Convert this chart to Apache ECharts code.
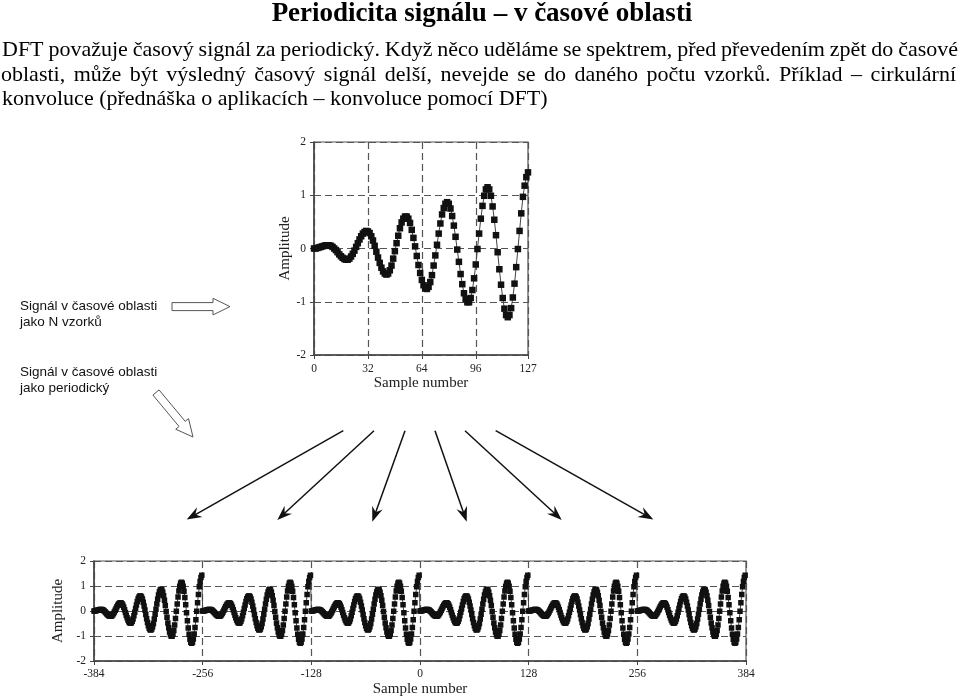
<!DOCTYPE html>
<html><head><meta charset="utf-8">
<script src="https://cdn.jsdelivr.net/npm/echarts@6/dist/echarts.min.js"></script>
<style>html,body{margin:0;padding:0;background:#fff}#c{width:960px;height:698px}</style>
</head><body><div id="c"></div>
<script>
// ---- data ----
const amplitude = [
  0, 0, 0.01, 0.02, 0.03, 0.04, 0.05, 0.06, 0.06,
  0.06, 0.05, 0.03, 0.00, -0.03, -0.07, -0.11, -0.145, -0.175, -0.197, -0.21,
  -0.21, -0.19, -0.15, -0.10, -0.04, 0.03, 0.10, 0.17, 0.23, 0.28, 0.31, 0.33,
  0.32, 0.29, 0.23, 0.15, 0.05, -0.06, -0.17, -0.27, -0.36, -0.43, -0.47, -0.49,
  -0.47, -0.41, -0.32, -0.19, -0.05, 0.10, 0.24, 0.38, 0.49, 0.56, 0.60,
  0.60, 0.56, 0.48, 0.35, 0.20, 0.04, -0.14, -0.31, -0.46, -0.59, -0.69, -0.75,
  -0.76, -0.72, -0.63, -0.50, -0.32, -0.13, 0.07, 0.28, 0.47, 0.64, 0.76, 0.84, 0.87,
  0.84, 0.75, 0.61, 0.43, 0.22, -0.02, -0.25, -0.48, -0.67, -0.84, -0.95, -1.01,
  -1.01, -0.93, -0.78, -0.56, -0.30, -0.01, 0.28, 0.56, 0.80, 0.99, 1.11, 1.15,
  1.11, 0.99, 0.79, 0.54, 0.25, -0.07, -0.39, -0.68, -0.93, -1.13, -1.25, -1.29,
  -1.25, -1.12, -0.92, -0.66, -0.35, -0.01, 0.33, 0.66, 0.97, 1.18, 1.34, 1.43
];
const topXTicks = [0, 32, 64, 96, 127];
const yTicks = [-2, -1, 0, 1, 2];
const bottomXTicks = [-384, -256, -128, 0, 128, 256, 384];
const periodStart = -384;
const periodCount = 6;

const titleText = 'Periodicita signálu – v časové oblasti';
const bodyLines = [
  'DFT považuje časový signál za periodický. Když něco uděláme se spektrem, před převedením zpět do časové',
  'oblasti, může být výsledný časový signál delší, nevejde se do daného počtu vzorků. Příklad – cirkulární',
  'konvoluce (přednáška o aplikacích – konvoluce pomocí DFT)'
];
const sideLabels = [
  ['Signál v časové oblasti', 'jako N vzorků'],
  ['Signál v časové oblasti', 'jako periodický']
];
const axisNameX = 'Sample number';
const axisNameY = 'Amplitude';

// ---- series built from the arrays ----
const topData = amplitude.map((v, i) => [i, v]);
const bottomData = [];
for (let p = 0; p < periodCount; p++) {
  amplitude.forEach((v, i) => bottomData.push([periodStart + p * amplitude.length + i, v]));
}

// ---- decorations ----
const SERIF = '"Liberation Serif", "Times New Roman", serif';
const ctx = document.createElement('canvas').getContext('2d');
function textLine(line, y, x0, x1, font, justify) {
  ctx.font = font;
  const words = line.split(' ');
  const widths = words.map(w => ctx.measureText(w).width);
  const total = widths.reduce((a, b) => a + b, 0);
  const gap = justify ? (x1 - x0 - total) / (words.length - 1) : ctx.measureText(' ').width;
  let x = x0;
  const els = [];
  words.forEach((w, i) => {
    els.push({ type: 'text', x: x, y: y, style: { text: w, font: font, fill: '#000', textVerticalAlign: 'middle', verticalAlign: 'middle' } });
    x += widths[i] + gap;
  });
  return els;
}
function arrowHead(x0, y0, x1, y1, len, half, notch) {
  const dx = x1 - x0, dy = y1 - y0, L = Math.hypot(dx, dy), ux = dx / L, uy = dy / L, px = -uy, py = ux;
  const bx = x1 - ux * len, by = y1 - uy * len;
  return [[x1, y1], [bx + px * half, by + py * half], [x1 - ux * (len - notch), y1 - uy * (len - notch)], [bx - px * half, by - py * half]];
}
function hollowArrow(x0, y0, x1, y1) {
  const dx = x1 - x0, dy = y1 - y0, L = Math.hypot(dx, dy), ux = dx / L, uy = dy / L, px = -uy, py = ux;
  const sw = 4, hw = 8.3, hl = 17;
  const loc = [[0, -sw], [L - hl, -sw], [L - hl, -hw], [L, 0], [L - hl, hw], [L - hl, sw], [0, sw]];
  return loc.map(([a, b]) => [x0 + ux * a + px * b, y0 + uy * a + py * b]);
}

const graphics = [];
graphics.push({ type: 'text', x: 482, y: 14, style: { text: titleText, font: 'bold 27px ' + SERIF, fill: '#000', textAlign: 'center', align: 'center', textVerticalAlign: 'middle', verticalAlign: 'middle' } });
const bodyFont = '22px ' + SERIF;
graphics.push(...textLine(bodyLines[0], 50, 2, 958, bodyFont, true));
graphics.push(...textLine(bodyLines[1], 75, 1, 956, bodyFont, true));
graphics.push(...textLine(bodyLines[2], 99, 2, 958, bodyFont, false));
const sideFont = '13.5px "Liberation Sans", Arial, sans-serif';
const sideY = [[306, 322], [372, 388]];
sideLabels.forEach((pair, k) => pair.forEach((t, j) => {
  graphics.push({ type: 'text', x: 20, y: sideY[k][j], style: { text: t, font: sideFont, fill: '#111', textVerticalAlign: 'middle', verticalAlign: 'middle' } });
}));
graphics.push({ type: 'polygon', shape: { points: hollowArrow(172, 306.6, 230, 306.6) }, style: { fill: '#fff', stroke: '#555', lineWidth: 1 } });
graphics.push({ type: 'polygon', shape: { points: hollowArrow(156, 392.5, 193, 437) }, style: { fill: '#fff', stroke: '#555', lineWidth: 1 } });
const fan = [
  [343.3, 430.7, 186.7, 519.5],
  [374, 430.7, 277.3, 520],
  [405, 430.7, 372.3, 521.7],
  [435, 430.7, 466.7, 521.7],
  [465, 430.7, 561.7, 520],
  [495.7, 430.7, 653.3, 519.5]
];
fan.forEach(([x0, y0, x1, y1]) => {
  const dx = x1 - x0, dy = y1 - y0, L = Math.hypot(dx, dy);
  graphics.push({ type: 'line', shape: { x1: x0, y1: y0, x2: x1 - dx / L * 8, y2: y1 - dy / L * 8 }, style: { stroke: '#111', lineWidth: 1.5 } });
  graphics.push({ type: 'polygon', shape: { points: arrowHead(x0, y0, x1, y1, 15, 5.5, 5) }, style: { fill: '#111' } });
});

// ---- axes ----
const dash = { color: '#555', width: 1.2, type: [7, 4] };
const axisLine = { show: true, onZero: false, lineStyle: { color: '#444', width: 1.5 } };
const lblStyle = { color: '#222', fontFamily: SERIF, fontSize: 11.5 };
const nameStyle = { color: '#222', fontFamily: SERIF, fontSize: 15 };

const option = {
  animation: false,
  backgroundColor: '#fff',
  graphic: graphics,
  grid: [
    { left: 314, top: 142, width: 214, height: 213, show: true, borderColor: '#555', borderWidth: 1.2, backgroundColor: 'transparent' },
    { left: 94, top: 561, width: 652, height: 100, show: true, borderColor: '#555', borderWidth: 1.2, backgroundColor: 'transparent' }
  ],
  xAxis: [
    { gridIndex: 0, type: 'value', min: 0, max: 127,
      axisLine: axisLine, axisTick: { show: true, inside: false, length: 4, customValues: topXTicks, lineStyle: { color: '#444' } },
      axisLabel: { customValues: topXTicks, margin: 8, ...lblStyle },
      splitLine: { show: true, lineStyle: dash },
      name: axisNameX, nameLocation: 'middle', nameGap: 20, nameTextStyle: nameStyle },
    { gridIndex: 1, type: 'value', min: bottomXTicks[0], max: bottomXTicks[bottomXTicks.length - 1], interval: 128,
      axisLine: axisLine, axisTick: { show: true, length: 4, lineStyle: { color: '#444' } },
      axisLabel: { margin: 7, showMinLabel: true, showMaxLabel: true, ...lblStyle },
      splitLine: { show: true, lineStyle: dash },
      name: axisNameX, nameLocation: 'middle', nameGap: 21, nameTextStyle: nameStyle }
  ],
  yAxis: [
    { gridIndex: 0, type: 'value', min: yTicks[0], max: yTicks[yTicks.length - 1], interval: 1,
      axisLine: axisLine, axisTick: { show: true, length: 4, lineStyle: { color: '#444' } },
      axisLabel: { margin: 8, ...lblStyle },
      splitLine: { show: true, lineStyle: dash },
      name: axisNameY, nameLocation: 'middle', nameGap: 16, nameTextStyle: nameStyle },
    { gridIndex: 1, type: 'value', min: yTicks[0], max: yTicks[yTicks.length - 1], interval: 1,
      axisLine: axisLine, axisTick: { show: true, length: 4, lineStyle: { color: '#444' } },
      axisLabel: { margin: 8, ...lblStyle },
      splitLine: { show: true, lineStyle: dash },
      name: axisNameY, nameLocation: 'middle', nameGap: 16, nameTextStyle: nameStyle }
  ],
  series: [
    { type: 'line', xAxisIndex: 0, yAxisIndex: 0, data: topData, symbol: 'rect', symbolSize: 6.5, showAllSymbol: true,
      itemStyle: { color: '#111' }, lineStyle: { color: '#444', width: 1 } },
    { type: 'line', xAxisIndex: 1, yAxisIndex: 1, data: bottomData, symbol: 'rect', symbolSize: 5.5, showAllSymbol: true,
      itemStyle: { color: '#111' }, lineStyle: { color: '#444', width: 1 } }
  ]
};
const chart = echarts.init(document.getElementById('c'), null, { renderer: 'canvas' });
chart.setOption(option);
</script></body></html>
